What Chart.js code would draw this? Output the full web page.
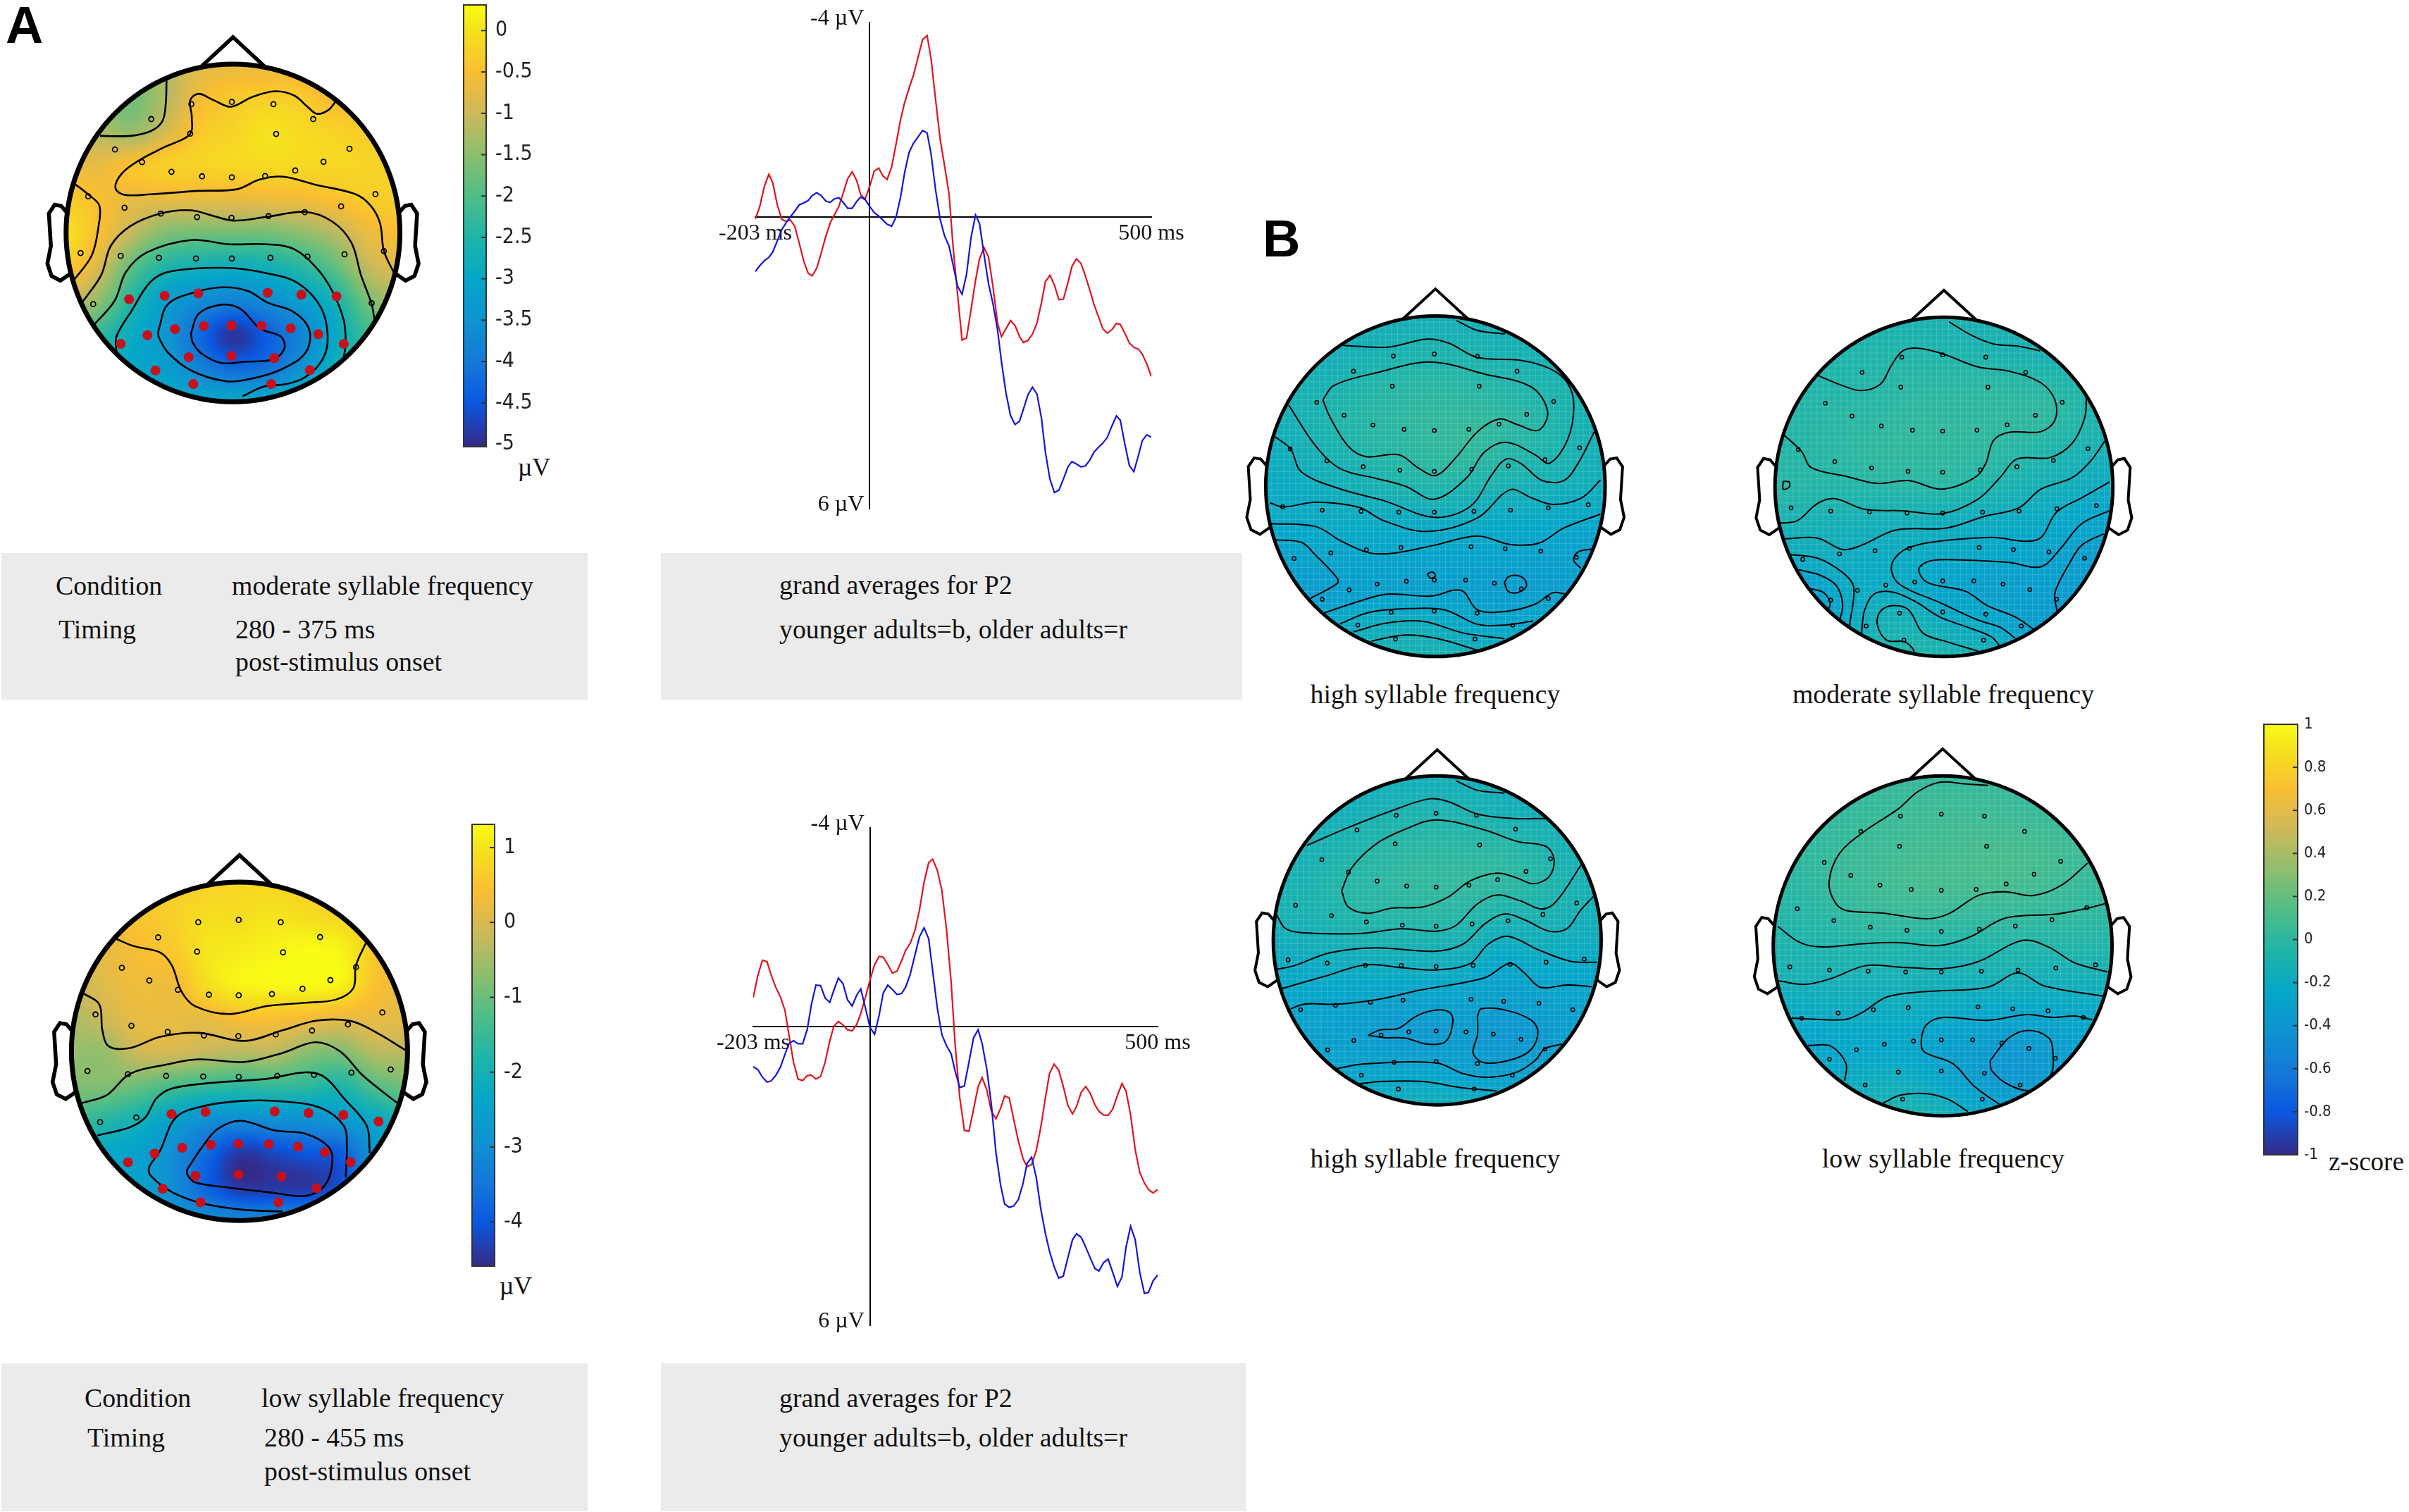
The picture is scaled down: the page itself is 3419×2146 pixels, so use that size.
<!DOCTYPE html>
<html>
<head>
<meta charset="utf-8">
<title>P2 topographies</title>
<script src="https://cdn.jsdelivr.net/npm/chart.js"></script>
<style>
  html, body { margin: 0; padding: 0; background: #fff; }
  #page { position: relative; width: 3419px; height: 2146px; overflow: hidden; background: #fff; }
  canvas { position: absolute; display: block; }
  .box { position: absolute; background: #ebebeb; }
  .t { position: absolute; font-family: "Liberation Serif", serif; font-size: 37.8px; color: #111; white-space: nowrap; transform: translateY(-50%); }
  .c { transform: translate(-50%, -50%); }
  .panel { position: absolute; font-family: "Liberation Sans", sans-serif; font-weight: bold; font-size: 74px; color: #000; line-height: 1; }
</style>
</head>
<body>
<div id="page">
  <div class="box" style="left:2px;top:785px;width:832px;height:208px"></div>
  <div class="box" style="left:938px;top:785px;width:825px;height:208px"></div>
  <div class="box" style="left:2px;top:1935px;width:832px;height:210px"></div>
  <div class="box" style="left:938px;top:1935px;width:830px;height:210px"></div>

  <div class="panel" style="left:8px;top:-1px">A</div>
  <div class="panel" style="left:1792px;top:302px">B</div>

  <div class="t" style="left:79px;top:831px">Condition</div>
  <div class="t" style="left:329px;top:831px">moderate syllable frequency</div>
  <div class="t" style="left:83px;top:893px">Timing</div>
  <div class="t" style="left:334px;top:893px">280 - 375 ms</div>
  <div class="t" style="left:334px;top:939px">post-stimulus onset</div>
  <div class="t" style="left:1106px;top:830px">grand averages for P2</div>
  <div class="t" style="left:1106px;top:893px">younger adults=b, older adults=r</div>

  <div class="t" style="left:120px;top:1984px">Condition</div>
  <div class="t" style="left:371px;top:1984px">low syllable frequency</div>
  <div class="t" style="left:124px;top:2040px">Timing</div>
  <div class="t" style="left:375px;top:2040px">280 - 455 ms</div>
  <div class="t" style="left:375px;top:2088px">post-stimulus onset</div>
  <div class="t" style="left:1106px;top:1984px">grand averages for P2</div>
  <div class="t" style="left:1106px;top:2040px">younger adults=b, older adults=r</div>

  <div class="t c" style="left:2037px;top:985px">high syllable frequency</div>
  <div class="t c" style="left:2758px;top:985px">moderate syllable frequency</div>
  <div class="t c" style="left:2037px;top:1644px">high syllable frequency</div>
  <div class="t c" style="left:2758px;top:1644px">low syllable frequency</div>

  <div class="t c" style="left:758px;top:663px;font-size:36px">µV</div>
  <div class="t c" style="left:732px;top:1825px;font-size:36px">µV</div>
  <div class="t" style="left:3305px;top:1648px;font-size:37px">z-score</div>
</div>

<script>
// ==============================
// ERP data (µV, negative up)
// ==============================
var erpTimes = [-203,-195,-187,-179,-172,-164,-156,-148,-141,-133,-125,-117,-109,-102,-94,-86,-78,-70,-63,-55,-47,-39,-31,-23,-16,-8,0,
  8,16,23,31,39,47,55,62,70,78,86,94,102,109,117,125,133,141,148,156,164,172,180,188,195,203,211,219,227,234,242,250,258,266,273,281,289,297,305,312,
  320,328,336,344,352,359,367,375,383,391,398,406,414,422,430,438,445,453,461,469,477,484,492,500];

var olderModerate = [.04,-.22,-.63,-.88,-.70,-.25,.05,.09,.06,.19,.54,.91,1.16,1.21,1.05,.74,.40,.12,-.04,-.21,-.49,-.79,-.93,-.75,-.46,-.37,-.63,
  -.94,-1.01,-.85,-.77,-1.03,-1.51,-2.01,-2.35,-2.65,-2.93,-3.29,-3.65,-3.73,-3.26,-2.42,-1.61,-1.05,-.47,.60,1.58,2.53,2.49,1.90,1.30,.86,.63,.82,1.44,
  2.18,2.46,2.30,2.13,2.23,2.46,2.58,2.54,2.41,2.18,1.76,1.33,1.20,1.40,1.70,1.69,1.35,1.02,.86,.95,1.21,1.51,1.79,2.04,2.30,2.39,2.32,2.19,2.21,2.39,2.59,2.68,2.72,2.82,3.02,3.28];
var youngerModerate = [1.12,1.00,.90,.83,.72,.49,.26,.11,0,-.12,-.25,-.29,-.34,-.44,-.50,-.44,-.33,-.30,-.37,-.40,-.30,-.18,-.18,-.32,-.41,-.36,-.22,
  -.09,-.02,.06,.15,.19,0,-.42,-.91,-1.33,-1.52,-1.65,-1.78,-1.73,-1.30,-.56,.04,.39,.60,.98,1.42,1.59,1.18,.42,-.04,.13,.77,1.37,1.79,
  2.32,2.98,3.62,4.08,4.27,4.20,3.95,3.66,3.50,3.64,4.14,4.84,5.39,5.67,5.62,5.39,5.14,5.03,5.08,5.14,5.12,5.00,4.84,4.74,4.65,4.53,4.30,4.09,4.18,4.67,5.11,5.24,4.91,4.60,4.48,4.53];
var olderLow = [-.59,-1.03,-1.34,-1.31,-1.05,-.80,-.61,-.34,.15,.71,1.05,1.08,.98,.97,1.05,1.00,.71,.29,-.01,-.11,-.04,.06,.08,-.05,-.27,-.59,-.94,
  -1.25,-1.42,-1.40,-1.25,-1.08,-1.12,-1.33,-1.54,-1.68,-1.93,-2.35,-2.91,-3.30,-3.37,-3.15,-2.74,-1.96,-.91,.36,1.42,2.08,2.10,1.66,1.20,1.02,1.27,1.70,1.85,
  1.64,1.39,1.43,1.87,2.30,2.65,2.81,2.77,2.49,2.01,1.42,.94,.75,.87,1.20,1.58,1.75,1.60,1.32,1.20,1.34,1.57,1.70,1.77,1.78,1.65,1.38,1.14,1.29,1.77,2.47,2.93,3.14,3.27,3.34,3.27];
var youngerLow = [.80,.86,1.01,1.11,1.09,.98,.82,.56,.34,.28,.34,.34,.05,-.44,-.84,-.83,-.58,-.49,-.73,-.98,-.87,-.54,-.42,-.64,-.76,-.38,.01,
  .15,-.24,-.68,-.84,-.75,-.65,-.67,-.80,-1.06,-1.44,-1.81,-1.99,-1.77,-1.12,-.38,.16,.38,.54,.89,1.22,1.19,.71,.22,.06,.34,.85,1.56,2.54,
  3.18,3.56,3.63,3.60,3.47,3.15,2.75,2.62,3.03,3.67,4.16,4.51,4.82,5.05,5.01,4.64,4.28,4.16,4.23,4.43,4.65,4.86,4.91,4.74,4.67,4.94,5.22,5.03,4.43,4.01,4.28,4.94,5.36,5.34,5.11,4.99];

var erpXTicks = [-203, 500];
var erpYTicks = [-4, 6];

// ==============================
// Colour bar ticks
// ==============================
var ticksModerate = [0,-0.5,-1,-1.5,-2,-2.5,-3,-3.5,-4,-4.5,-5];
var ticksLow = [1,0,-1,-2,-3,-4];
var ticksZ = [1,0.8,0.6,0.4,0.2,0,-0.2,-0.4,-0.6,-0.8,-1];

// ==============================
// Scalp fields: 11 x 11 samples over the head, front row first
// ==============================
var fieldA1 = [
  [-1.5,-1.5,-1.5,-1.2,-.8,-.7,-.7,-.7,-.6,-.5,-.5],
  [-1.6,-1.6,-1.7,-1.2,-.6,-.35,-.28,-.3,-.55,-.5,-.5],
  [-1,-1.2,-1.4,-.9,-.35,-.2,0,-.1,-.2,-.3,-.35],
  [-.7,-.7,-.42,-.25,-.2,-.15,-.12,-.12,-.15,-.2,-.25],
  [-.3,-.5,-.7,-.7,-.7,-.7,-.65,-.6,-.45,-.3,-.3],
  [-.05,-.5,-1.1,-1.6,-1.7,-1.7,-1.7,-1.5,-1.2,-.7,-.5],
  [-.3,-.9,-1.9,-2.5,-2.7,-2.8,-2.7,-2.4,-1.9,-1.1,-.8],
  [-1,-1.5,-2.5,-3.2,-3.6,-3.8,-3.6,-3.2,-2.7,-1.7,-1.3],
  [-2,-2.3,-2.9,-3.4,-4.2,-4.9,-4.4,-3.8,-3,-2.2,-1.8],
  [-2.6,-2.8,-3,-3.2,-3.8,-4.2,-4.1,-3.5,-2.8,-2.3,-2],
  [-2.6,-2.8,-2.9,-3,-3,-3,-2.9,-2.7,-2.6,-2.3,-2]
];
var fieldA2 = [
  [.6,.6,.6,.6,.7,.8,.8,.7,.6,.5,.4],
  [.4,.4,.5,.7,.9,.9,1,.9,.8,.7,.6],
  [.1,.2,.4,.6,1,1.1,1.2,1.3,1.2,.6,.3],
  [-.2,.1,.3,.3,.9,1.2,1.25,1.3,1.2,.5,.2],
  [-.4,-.1,.2,.2,.2,.45,.45,.35,.2,.2,.1],
  [-.6,-.6,-.1,-.05,-.2,-.3,-.3,-.7,-.8,-.3,-.3],
  [-.8,-.8,-1,-1.3,-1.5,-1.6,-1.5,-1.6,-1.8,-1.2,-.9],
  [-1.4,-1.7,-2,-2.5,-2.9,-3,-2.9,-2.9,-2.7,-2.3,-1.8],
  [-2,-2.3,-2.5,-3,-3.7,-4.4,-4.2,-4,-3.9,-2.8,-2.2],
  [-2.3,-2.4,-2.5,-3,-3.8,-4.4,-4.4,-4.4,-4,-2.8,-2.2],
  [-2.3,-2.4,-2.5,-2.8,-3,-3.1,-3.1,-3,-2.9,-2.5,-2.2]
];
var fieldB1 = [
  [-.14,-.14,-.14,-.14,-.14,-.14,-.14,-.14,-.14,-.14,-.14],
  [-.14,-.14,-.13,-.12,-.1,-.09,-.09,-.11,-.12,-.14,-.14],
  [-.13,-.12,-.1,-.06,-.03,-.02,-.03,-.05,-.08,-.1,-.12],
  [-.14,-.12,-.07,-.03,0,.02,.02,0,-.04,-.1,-.12],
  [-.18,-.14,-.1,-.05,-.02,.01,.01,-.03,-.06,-.1,-.14],
  [-.2,-.2,-.15,-.12,-.08,-.06,-.08,-.1,-.13,-.15,-.16],
  [-.22,-.22,-.2,-.2,-.2,-.19,-.2,-.22,-.22,-.24,-.24],
  [-.28,-.28,-.27,-.26,-.27,-.27,-.27,-.28,-.3,-.3,-.3],
  [-.3,-.32,-.32,-.3,-.3,-.3,-.31,-.33,-.33,-.32,-.3],
  [-.22,-.22,-.22,-.19,-.18,-.19,-.24,-.26,-.24,-.22,-.2],
  [-.13,-.13,-.13,-.12,-.1,-.1,-.14,-.16,-.16,-.15,-.15]
];
var fieldB2 = [
  [-.1,-.1,-.1,-.1,-.1,-.1,-.1,-.1,-.1,-.1,-.1],
  [-.1,-.08,-.07,-.06,-.06,-.07,-.08,-.1,-.12,-.13,-.13],
  [-.08,-.06,-.05,-.04,-.02,-.01,-.01,-.02,-.03,-.06,-.1],
  [-.05,-.04,-.02,-.01,.01,.01,.01,.01,0,-.05,-.1],
  [-.04,-.04,-.01,.01,.01,.01,0,-.03,-.07,-.11,-.14],
  [-.03,-.04,-.05,-.04,-.03,-.03,-.06,-.1,-.13,-.17,-.2],
  [-.1,-.11,-.12,-.13,-.14,-.16,-.18,-.2,-.22,-.26,-.28],
  [-.2,-.18,-.18,-.2,-.2,-.22,-.24,-.26,-.28,-.32,-.34],
  [-.3,-.3,-.22,-.2,-.21,-.27,-.3,-.31,-.32,-.34,-.36],
  [-.34,-.34,-.24,-.13,-.12,-.18,-.22,-.28,-.32,-.36,-.36],
  [-.2,-.2,-.15,-.08,-.06,-.08,-.12,-.16,-.2,-.25,-.25]
];
var fieldB3 = [
  [-.15,-.15,-.15,-.15,-.15,-.15,-.15,-.15,-.15,-.15,-.15],
  [-.15,-.15,-.15,-.13,-.1,-.09,-.1,-.13,-.15,-.15,-.15],
  [-.14,-.12,-.1,-.06,-.03,-.02,-.03,-.04,-.08,-.12,-.14],
  [-.11,-.1,-.05,-.02,.01,.02,.02,0,-.04,-.1,-.13],
  [-.11,-.1,-.06,-.03,-.02,-.01,-.03,-.06,-.08,-.11,-.14],
  [-.16,-.14,-.12,-.1,-.1,-.1,-.12,-.18,-.15,-.17,-.18],
  [-.22,-.22,-.2,-.2,-.2,-.2,-.22,-.28,-.25,-.25,-.25],
  [-.27,-.27,-.28,-.3,-.32,-.31,-.31,-.34,-.32,-.3,-.3],
  [-.3,-.3,-.31,-.34,-.36,-.37,-.35,-.4,-.37,-.32,-.3],
  [-.26,-.26,-.26,-.26,-.26,-.27,-.3,-.32,-.28,-.25,-.25],
  [-.16,-.16,-.16,-.16,-.16,-.16,-.18,-.2,-.2,-.18,-.18]
];
var fieldB4 = [
  [.02,.02,.02,.02,.02,.02,.02,.02,.02,.02,.02],
  [.02,.02,.02,.03,.05,.06,.06,.05,.03,.02,.02],
  [0,.01,.03,.05,.07,.08,.09,.09,.08,.05,.03],
  [-.02,0,.04,.06,.09,.1,.1,.1,.08,.04,.02],
  [-.05,-.03,0,.03,.04,.04,.03,.03,.02,.01,-.01],
  [-.07,-.07,-.06,-.05,-.06,-.07,-.06,-.05,-.06,-.05,-.05],
  [-.12,-.13,-.12,-.12,-.12,-.14,-.14,-.13,-.15,-.14,-.14],
  [-.2,-.21,-.2,-.2,-.2,-.22,-.24,-.26,-.25,-.24,-.22],
  [-.26,-.27,-.25,-.24,-.26,-.31,-.34,-.38,-.36,-.3,-.28],
  [-.2,-.2,-.2,-.17,-.18,-.25,-.33,-.38,-.35,-.3,-.28],
  [-.1,-.1,-.1,-.08,-.08,-.14,-.22,-.25,-.25,-.22,-.2]
];

// ==============================
// Electrodes (map units)
// ==============================
var sitesA1 = [[501,322],[607,315],[716,322],[396,368],[820,368],[498,413],[723,414],[301,462],[915,460],[372,501],[847,500],[449,531],[529,545],[607,548],[694,544],[773,527],[231,607],[983,600],[326,642],[893,638],[421,660],[516,671],[606,673],[703,668],[798,656],[211,782],[1005,776],[316,791],[416,797],[513,799],[607,799],[708,797],[805,793],[902,786],[244,940],[973,937]];
var hotSitesA1 = [[338,925],[431,914],[519,907],[701,905],[789,911],[881,916],[534,1008],[606,1006],[685,1007],[761,1015],[833,1033],[458,1017],[386,1036],[316,1063],[900,1063],[494,1104],[606,1100],[718,1107],[407,1145],[811,1144],[506,1187],[710,1187]];
var sitesA2 = [[519,346],[625,339],[735,346],[414,393],[838,392],[516,437],[741,439],[319,487],[932,485],[391,526],[865,525],[466,555],[547,570],[625,572],[712,568],[792,552],[250,631],[1001,625],[344,666],[911,662],[439,685],[534,696],[624,698],[722,693],[817,681],[229,806],[1023,801],[335,816],[435,821],[532,823],[625,824],[726,821],[822,818],[920,811],[262,964],[357,950]];
var hotSitesA2 = [[449,939],[538,932],[719,931],[808,936],[899,942],[991,962],[552,1034],[624,1031],[704,1032],[780,1040],[851,1057],[477,1043],[405,1061],[335,1088],[918,1088],[512,1130],[624,1126],[737,1132],[426,1170],[829,1168],[525,1212],[729,1212]];
var sitesB1 = [[446,307],[560,300],[680,308],[335,360],[790,360],[443,412],[685,412],[233,468],[892,465],[309,513],[817,510],[389,547],[476,562],[560,566],[656,562],[740,544],[159,630],[964,626],[261,671],[868,667],[362,692],[464,704],[560,708],[664,701],[766,689],[138,831],[988,824],[248,843],[356,847],[461,850],[560,850],[670,847],[772,843],[877,835],[170,1011],[272,992],[371,981],[467,973],[662,970],[757,977],[856,985],[955,1007],[323,1120],[401,1100],[482,1090],[560,1086],[647,1086],[727,1097],[802,1116],[248,1153],[877,1150],[440,1198],[560,1194],[679,1201],[347,1243],[778,1243],[452,1291],[673,1291]];
var sitesB2 = [[558,311],[688,303],[825,311],[432,364],[952,364],[555,415],[832,415],[315,471],[1068,468],[400,516],[983,513],[493,550],[592,565],[688,568],[797,565],[893,546],[229,632],[1150,629],[345,674],[1040,670],[462,696],[578,708],[688,711],[808,703],[924,692],[206,835],[1177,827],[332,846],[455,849],[575,853],[688,853],[815,850],[931,846],[1051,838],[243,1014],[360,995],[473,984],[582,976],[804,973],[913,980],[1026,988],[1139,1010],[417,1122],[507,1104],[599,1093],[688,1089],[787,1089],[880,1100],[965,1119],[332,1156],[1050,1153],[551,1201],[688,1197],[825,1205],[445,1246],[938,1246],[565,1295],[818,1295]];
var sitesB3 = [[454,287],[565,280],[677,287],[345,338],[786,335],[451,386],[686,390],[247,441],[883,438],[321,485],[815,482],[401,516],[483,533],[565,537],[656,530],[736,511],[174,600],[956,592],[274,636],[862,632],[371,658],[471,669],[565,673],[665,665],[765,654],[153,790],[977,787],[262,801],[368,809],[468,809],[565,813],[668,809],[771,805],[871,798],[188,963],[285,948],[382,937],[473,930],[662,927],[753,934],[851,941],[945,963],[336,1070],[412,1051],[489,1040],[565,1037],[648,1040],[724,1048],[801,1066],[263,1103],[868,1100],[448,1146],[565,1143],[680,1150],[357,1191],[777,1191],[460,1239],[671,1239]];
var sitesB4 = [[400,290],[494,283],[593,290],[309,343],[685,343],[398,395],[598,395],[225,451],[768,447],[286,496],[707,492],[353,530],[425,545],[494,548],[574,545],[643,526],[163,612],[828,608],[247,653],[748,650],[331,676],[415,687],[494,691],[581,683],[664,672],[146,814],[848,807],[237,825],[326,829],[412,832],[494,832],[586,829],[670,825],[757,818],[173,993],[257,975],[338,963],[418,956],[578,953],[658,960],[739,967],[820,990],[299,1102],[363,1083],[430,1072],[494,1068],[566,1068],[633,1079],[695,1098],[237,1135],[756,1132],[395,1180],[494,1176],[593,1184],[319,1225],[675,1225],[405,1274],[588,1274]];

// ==============================
// Contour lines (map units)
// ==============================
var contoursA1 = [
  [[436,248],[434,320],[425,375],[395,405],[340,420],[262,420]],
  [[878,315],[860,340],[830,352],[805,330],[770,295],[720,282],[660,300],[605,330],[560,310],[520,290],[498,310],[502,360],[497,415],[430,455],[365,495],[320,535],[302,580],[325,602],[400,600],[520,590],[620,585],[680,555],[740,546],[830,572],[930,600],[970,635],[995,690],[1005,775],[1032,845]],
  [[192,565],[230,600],[260,635],[258,700],[240,790],[192,868]],
  [[215,935],[265,850],[290,760],[340,700],[420,660],[500,650],[560,668],[610,682],[700,670],[800,655],[870,685],[920,750],[945,850],[973,940],[980,985]],
  [[247,1003],[300,930],[330,840],[385,780],[500,742],[600,755],[700,755],[770,770],[830,830],[870,900],[900,990],[905,1060],[900,1105]],
  [[305,1090],[305,1040],[345,960],[395,870],[450,838],[600,828],[700,845],[780,875],[840,950],[858,1040],[845,1110],[800,1165],[750,1187],[690,1195],[635,1225]],
  [[415,1020],[440,940],[520,900],[590,888],[650,900],[700,935],[770,965],[810,1020],[800,1090],[740,1140],[660,1170],[590,1178],[500,1145],[440,1090],[415,1040],[415,1020]],
  [[500,1030],[520,970],[580,942],[630,955],[680,1015],[735,1040],[745,1075],[718,1110],[640,1118],[580,1122],[530,1095],[505,1060],[500,1030]]
];
var contoursA2 = [
  [[305,398],[350,420],[420,440],[450,480],[475,560],[510,605],[600,630],[700,605],[800,595],[880,585],[925,550],[932,480],[958,410]],
  [[220,567],[260,600],[268,680],[285,730],[340,735],[420,700],[520,688],[640,713],[740,680],[830,650],[920,652],[990,690],[1062,742]],
  [[215,905],[280,880],[340,815],[440,785],[520,770],[640,778],[740,750],[825,717],[890,745],[950,820],[1040,905]],
  [[255,1005],[340,980],[380,950],[410,890],[450,860],[560,842],[700,830],[800,810],[850,825],[900,890],[960,975],[968,1060]],
  [[905,1135],[908,1040],[900,975],[840,920],[740,900],[640,898],[530,915],[460,950],[420,1050],[390,1105],[395,1130],[450,1180],[530,1215],[640,1235],[740,1240]],
  [[490,1110],[530,1040],[570,985],[630,960],[720,990],[800,1000],[860,1040],[870,1090],[850,1160],[800,1192],[700,1180],[590,1165],[510,1150],[490,1125],[490,1110]]
];
var contoursB1 = [
  [[622,184],[680,218],[757,230]],
  [[305,270],[430,276],[540,248],[600,262],[680,312],[800,322],[880,350],[930,400],[948,480],[930,600],[880,680],[840,650],[760,607],[700,640],[650,730],[560,805],[480,760],[400,733],[300,700],[230,620],[155,478]],
  [[250,460],[280,410],[400,365],[550,328],[700,370],[830,415],[875,500],[850,565],[790,545],[740,526],[680,570],[620,660],[565,722],[520,700],[460,650],[370,657],[320,620],[270,520],[250,460]],
  [[117,588],[160,630],[190,710],[300,770],[420,810],[560,868],[660,830],[720,720],[760,665],[800,680],[860,740],[920,740],[960,680],[1005,570]],
  [[103,817],[140,832],[230,815],[350,833],[420,880],[540,917],[680,870],[770,772],[830,800],[890,823],[970,800],[1022,738]],
  [[103,890],[230,900],[300,950],[380,992],[450,992],[560,965],[680,933],[770,962],[850,958],[920,905],[1022,857]],
  [[118,946],[190,955],[230,1000],[290,1080],[290,1098],[215,1150]],
  [[255,1200],[350,1160],[430,1135],[550,1142],[635,1122],[680,1190],[760,1195],[840,1170],[890,1130],[925,1135]],
  [[298,1238],[380,1198],[500,1185],[590,1190],[680,1240],[760,1242],[835,1228]],
  [[335,1266],[430,1235],[530,1230],[640,1270],[755,1290]],
  [[385,1298],[480,1277],[570,1290],[680,1330]],
  [[755,1095],[765,1075],[790,1070],[812,1085],[815,1110],[790,1130],[765,1125],[755,1095]],
  [[997,978],[960,988],[947,1015],[967,1045]],
  [[540,1065],[555,1058],[563,1072],[550,1080],[540,1065]]
];
var contoursB2 = [
  [[708,188],[780,235],[850,265],[930,273],[998,289]],
  [[288,373],[370,410],[430,427],[490,405],[525,340],[560,290],[610,280],[690,300],[800,345],[900,360],[1000,400],[1045,460],[1045,530],[1000,570],[900,572],[850,600],[825,680],[790,730],[685,770],[580,740],[480,750],[380,725],[270,695],[240,640],[180,578]],
  [[165,888],[225,880],[290,820],[345,803],[440,840],[560,845],[688,855],[800,805],[870,730],[925,665],[1030,660],[1100,610],[1140,520],[1145,448]],
  [[183,943],[290,940],[370,980],[430,965],[540,912],[700,905],[820,865],[930,835],[1000,770],[1100,730],[1160,670],[1203,603]],
  [[200,997],[290,1010],[370,1060],[405,1110],[392,1245]],
  [[430,1270],[440,1190],[470,1135],[530,1128],[600,1160],[680,1215],[780,1255],[845,1285],[872,1320]],
  [[1218,845],[1130,890],[1060,980],[1000,1040],[900,1025],[700,1015],[640,1022],[612,1050],[640,1095],[760,1125],[830,1175],[920,1215],[978,1258]],
  [[1218,745],[1130,800],[1050,850],[990,945],[840,938],[650,955],[560,985],[525,1040],[550,1100],[680,1165],[800,1225],[870,1250],[918,1288]],
  [[1200,925],[1130,965],[1090,1030],[1045,1130],[1052,1195]],
  [[230,1050],[300,1070],[350,1105],[370,1170],[360,1230]],
  [[265,1115],[310,1130],[330,1165],[325,1190]],
  [[598,1338],[590,1320],[565,1300],[510,1295],[480,1240],[490,1195],[530,1175],[580,1190],[625,1270],[700,1300],[800,1333]],
  [[181,743],[200,745],[200,763],[181,770],[181,743]]
];
var contoursB3 = [
  [[620,167],[680,200],[755,210]],
  [[205,392],[320,330],[440,272],[545,230],[600,240],[680,283],[780,298],[868,298]],
  [[302,550],[330,470],[400,385],[480,335],[565,303],[700,338],[790,378],[870,395],[893,440],[880,500],[835,525],[790,505],[735,488],[660,515],[600,570],[530,605],[440,610],[375,628],[320,605],[302,550]],
  [[122,635],[145,680],[190,695],[350,698],[470,682],[565,690],[620,670],[680,595],[735,564],[800,585],[860,613],[900,585],[968,460]],
  [[120,823],[170,810],[270,765],[400,748],[560,760],[640,735],[700,665],[755,630],[810,650],[880,690],[930,680],[965,620],[1002,570]],
  [[135,890],[260,845],[368,807],[470,817],[565,825],[660,802],[710,735],[765,708],[850,755],[940,795],[1012,798]],
  [[160,960],[200,943],[290,944],[400,928],[520,895],[700,852],[770,802],[810,835],[855,885],[930,877],[998,883]],
  [[376,1052],[410,1033],[460,1028],[510,985],[565,964],[605,975],[610,1020],[590,1075],[540,1083],[480,1062],[420,1060],[376,1052]],
  [[680,985],[690,960],[760,965],[830,1000],[848,1040],[830,1100],[780,1135],[700,1148],[668,1115],[680,1050],[680,985]],
  [[288,1168],[360,1152],[565,1148],[640,1185],[710,1198],[790,1180],[840,1140],[868,1098],[915,1083]],
  [[352,1220],[420,1212],[530,1213],[640,1235],[733,1245]]
];
var contoursB4 = [
  [[602,183],[550,178],[490,172],[440,205],[395,265],[320,340],[260,420],[236,520],[250,590],[275,618],[360,627],[460,647],[510,630],[580,565],[640,553],[705,566],[770,530],[830,453]],
  [[118,673],[170,730],[220,745],[320,733],[400,730],[490,740],[560,710],[640,645],[760,630],[830,610],[876,592]],
  [[118,862],[180,875],[240,855],[320,810],[400,815],[500,820],[580,795],[680,722],[740,745],[800,800],[876,832]],
  [[150,992],[270,998],[310,975],[370,918],[460,900],[600,885],[670,835],[730,880],[866,916]],
  [[840,998],[800,985],[750,990],[690,980],[600,1000],[500,990],[460,1015],[448,1070],[455,1110],[520,1150],[570,1230],[630,1295]],
  [[606,1140],[650,1060],[695,1035],[740,1060],[750,1105],[745,1190],[700,1243],[650,1225],[610,1175],[606,1140]],
  [[188,1087],[240,1090],[275,1150],[272,1210]],
  [[360,1288],[400,1260],[460,1255],[510,1275],[555,1317]]
];

// ==============================
// Helpers
// ==============================
var page = document.getElementById("page");
var colourStops = [
  [0, 53,42,135], [.1, 10,88,225], [.19, 20,120,216], [.28, 15,145,210], [.38, 5,167,200],
  [.47, 30,180,170], [.57, 80,190,135], [.66, 140,190,110], [.755, 205,185,90], [.85, 250,190,50],
  [.94, 245,225,30], [1, 249,251,21]
];

function parula(t) {
  t = Math.max(0, Math.min(1, t));
  for (var i = 1; i < colourStops.length; i++) {
    if (t <= colourStops[i][0]) {
      var a = colourStops[i - 1], b = colourStops[i];
      var k = (t - a[0]) / (b[0] - a[0]);
      return [a[1] + (b[1] - a[1]) * k, a[2] + (b[2] - a[2]) * k, a[3] + (b[3] - a[3]) * k];
    }
  }
  return colourStops[colourStops.length - 1].slice(1);
}

function makeCanvas(left, top, width, height) {
  var c = document.createElement("canvas");
  c.width = width;
  c.height = height;
  c.style.left = left + "px";
  c.style.top = top + "px";
  c.style.width = width + "px";
  c.style.height = height + "px";
  page.appendChild(c);
  return c;
}

function pairs(list) {
  return list.map(function (p) { return { x: p[0], y: p[1] }; });
}

function catmull(a, b, c, d, t) {
  return b + .5 * t * (c - a + t * (2 * a - 5 * b + 4 * c - d + t * (3 * (b - c) + d - a)));
}

// value of a field at u, v (both -1..1 across the head)
function fieldAt(field, u, v) {
  var n = field.length - 1, m = field[0].length - 1;
  var gy = (v + 1) / 2 * n, gx = (u + 1) / 2 * m;
  var r = Math.max(0, Math.min(n - 1, Math.floor(gy))), q = Math.max(0, Math.min(m - 1, Math.floor(gx)));
  var rows = [];
  for (var i = -1; i <= 2; i++) {
    var row = field[Math.max(0, Math.min(n, r + i))];
    rows.push(catmull(row[Math.max(0, q - 1)], row[q], row[q + 1], row[Math.min(m, q + 2)], gx - q));
  }
  return catmull(rows[0], rows[1], rows[2], rows[3], gy - r);
}

// ==============================
// Scalp map chart
// ==============================
var leftEar = [[-.99,-.115],[-1.03,-.16],[-1.068,-.167],[-1.103,-.115],[-1.091,.077],[-1.112,.182],[-1.087,.255],[-1.034,.282],[-.973,.24]];
var noseShape = [[-.19,-.985],[0,-1.159],[.19,-.985]];

function scalpPlugin(m) {
  return {
    id: "scalp",
    beforeDatasetsDraw: function (chart) {
      var ctx = chart.ctx, sx = chart.scales.x, sy = chart.scales.y;
      var px = sx.getPixelForValue(m.cx), py = sy.getPixelForValue(m.cy);
      var rx = sx.getPixelForValue(m.cx + m.rx) - px, ry = sy.getPixelForValue(m.cy + m.ry) - py;
      var w = Math.ceil(rx * 2), h = Math.ceil(ry * 2);
      var off = document.createElement("canvas");
      off.width = w; off.height = h;
      var octx = off.getContext("2d"), img = octx.createImageData(w, h);
      for (var j = 0; j < h; j++) {
        for (var i = 0; i < w; i++) {
          var c = parula((fieldAt(m.field, (i + .5) / w * 2 - 1, (j + .5) / h * 2 - 1) - m.min) / (m.max - m.min));
          var k = (j * w + i) * 4;
          img.data[k] = c[0]; img.data[k + 1] = c[1]; img.data[k + 2] = c[2]; img.data[k + 3] = 255;
        }
      }
      octx.putImageData(img, 0, 0);
      ctx.save();
      ctx.beginPath();
      ctx.ellipse(px, py, rx, ry, 0, 0, Math.PI * 2);
      ctx.clip();
      ctx.drawImage(off, px - rx, py - ry);
      if (m.mesh) {
        // faint resampling grid seen on the z-score maps
        ctx.strokeStyle = "rgba(255,255,255,.16)";
        ctx.lineWidth = 1;
        ctx.beginPath();
        for (var gx = px - rx; gx < px + rx; gx += 8.5) { ctx.moveTo(gx, py - ry); ctx.lineTo(gx, py + ry); }
        for (var gy = py - ry; gy < py + ry; gy += 8.5) { ctx.moveTo(px - rx, gy); ctx.lineTo(px + rx, gy); }
        ctx.stroke();
      }
      ctx.restore();
    },
    afterDatasetsDraw: function (chart) {
      var ctx = chart.ctx, sx = chart.scales.x, sy = chart.scales.y;
      function place(p, flip) {
        return [sx.getPixelForValue(m.cx + p[0] * m.rx * (flip ? -1 : 1)), sy.getPixelForValue(m.cy + p[1] * m.ry)];
      }
      function trace(shape, flip) {
        ctx.beginPath();
        shape.forEach(function (p, i) {
          var q = place(p, flip);
          if (i) ctx.lineTo(q[0], q[1]); else ctx.moveTo(q[0], q[1]);
        });
        ctx.stroke();
      }
      ctx.save();
      ctx.strokeStyle = "#000";
      ctx.lineJoin = "miter";
      ctx.lineWidth = m.trim;
      trace(noseShape, false);
      trace(leftEar, false);
      trace(leftEar, true);
      ctx.lineWidth = m.outline;
      var c = place([0, 0]), e = place([1, 1]);
      ctx.beginPath();
      ctx.ellipse(c[0], c[1], e[0] - c[0], e[1] - c[1], 0, 0, Math.PI * 2);
      ctx.stroke();
      ctx.restore();
    }
  };
}

function drawScalp(m) {
  var datasets = [];
  if (m.hot) {
    datasets.push({ data: pairs(m.hot), showLine: false, pointRadius: 7, pointBackgroundColor: "#c8101c", pointBorderWidth: 0 });
  }
  datasets.push({ data: pairs(m.sites), showLine: false, pointRadius: m.dot, pointBackgroundColor: "rgba(0,0,0,0)", pointBorderColor: "#000", pointBorderWidth: m.dotLine });
  m.contours.forEach(function (line) {
    datasets.push({ data: pairs(line), showLine: true, pointRadius: 0, borderColor: "#000", borderWidth: m.line, tension: .35, fill: false });
  });
  return new Chart(makeCanvas(m.left, m.top, m.width, m.height), {
    type: "scatter",
    data: { datasets: datasets },
    plugins: [scalpPlugin(m)],
    options: {
      responsive: false,
      devicePixelRatio: 1,
      animation: false,
      events: [],
      layout: { padding: 0, autoPadding: false },
      plugins: { legend: { display: false }, tooltip: { enabled: false } },
      scales: {
        x: { display: false, type: "linear", min: 0, max: 1568 },
        y: { display: false, type: "linear", min: 0, max: 1568, reverse: true }
      }
    }
  });
}

drawScalp({ left: 0, top: 0, width: 850, height: 720, cx: 610, cy: 720, rx: 437, ry: 522, field: fieldA1, min: -5.03, max: .31, sites: sitesA1, hot: hotSitesA1, contours: contoursA1, outline: 7, trim: 5.5, line: 2.6, dot: 3.5, dotLine: 1.8 });
drawScalp({ left: 0, top: 1150, width: 850, height: 720, cx: 627, cy: 745, rx: 440, ry: 523, field: fieldA2, min: -4.59, max: 1.31, sites: sitesA2, hot: hotSitesA2, contours: contoursA2, outline: 7, trim: 5.5, line: 2.6, dot: 3.5, dotLine: 1.8 });
drawScalp({ left: 1750, top: 380, width: 800, height: 640, cx: 563, cy: 760, rx: 472, ry: 592, field: fieldB1, min: -1, max: 1, sites: sitesB1, contours: contoursB1, outline: 5, trim: 4, line: 2, dot: 2.6, dotLine: 1.5, mesh: true });
drawScalp({ left: 2450, top: 380, width: 700, height: 640, cx: 692, cy: 762, rx: 537, ry: 590, field: fieldB2, min: -1, max: 1, sites: sitesB2, contours: contoursB2, outline: 5, trim: 4, line: 2, dot: 2.6, dotLine: 1.5, mesh: true });
drawScalp({ left: 1750, top: 1040, width: 800, height: 640, cx: 568, cy: 722, rx: 456, ry: 572, field: fieldB3, min: -1, max: 1, sites: sitesB3, contours: contoursB3, outline: 5, trim: 4, line: 2, dot: 2.6, dotLine: 1.5, mesh: true });
drawScalp({ left: 2450, top: 1040, width: 969, height: 640, cx: 497, cy: 741, rx: 389, ry: 591, field: fieldB4, min: -1, max: 1, sites: sitesB4, contours: contoursB4, outline: 5, trim: 4, line: 2, dot: 2.6, dotLine: 1.5, mesh: true });

// ==============================
// Colour bars
// ==============================
function drawColourBar(left, top, width, height, min, max, ticks, fontSize, labelGap) {
  var margin = 40, axisWidth = 130;
  return new Chart(makeCanvas(left - margin, top - margin, margin + width + axisWidth, height + margin * 2), {
    type: "scatter",
    data: { datasets: [{ data: [] }] },
    plugins: [{
      id: "bar",
      beforeDatasetsDraw: function (chart) {
        var ctx = chart.ctx, a = chart.chartArea, y = chart.scales.y;
        for (var py = Math.floor(a.top); py < a.bottom; py++) {
          var c = parula((y.getValueForPixel(py + .5) - min) / (max - min));
          ctx.fillStyle = "rgb(" + Math.round(c[0]) + "," + Math.round(c[1]) + "," + Math.round(c[2]) + ")";
          ctx.fillRect(a.left, py, a.right - a.left, 1);
        }
        ctx.strokeStyle = "#333";
        ctx.lineWidth = 2;
        ctx.strokeRect(a.left, a.top, a.right - a.left, a.bottom - a.top);
        ticks.forEach(function (v) {
          var p = y.getPixelForValue(v);
          ctx.beginPath();
          ctx.moveTo(a.right, p);
          ctx.lineTo(a.right - 7, p);
          ctx.stroke();
        });
      }
    }],
    options: {
      responsive: false,
      devicePixelRatio: 1,
      animation: false,
      events: [],
      layout: { padding: { left: margin, top: margin, bottom: margin, right: 0 }, autoPadding: false },
      plugins: { legend: { display: false }, tooltip: { enabled: false } },
      scales: {
        x: { display: false },
        y: {
          position: "right",
          min: min,
          max: max,
          grid: { display: false, drawTicks: false },
          border: { display: false },
          afterFit: function (s) { s.width = axisWidth; },
          afterBuildTicks: function (s) { s.ticks = ticks.map(function (v) { return { value: v }; }); },
          ticks: {
            autoSkip: false,
            padding: labelGap,
            color: "#222",
            font: { family: "'DejaVu Sans Condensed','DejaVu Sans',sans-serif", size: fontSize },
            callback: function (v) { return String(v); }
          }
        }
      }
    }
  });
}

drawColourBar(658, 7, 32, 627, -5.03, .31, ticksModerate, 30, 13);
drawColourBar(670, 1170, 32, 627, -4.59, 1.31, ticksLow, 30, 13);
drawColourBar(3213, 1028, 48, 611, -1, 1, ticksZ, 22, 9);

// ==============================
// ERP waveforms
// ==============================
function series(values) {
  return values.map(function (v, i) { return { x: erpTimes[i], y: v }; });
}

function drawErp(left, top, width, height, plot, older, younger) {
  return new Chart(makeCanvas(left, top, width, height), {
    type: "scatter",
    data: {
      datasets: [
        { data: series(younger), showLine: true, borderColor: "#1414dc", borderWidth: 2.2, pointRadius: 0, tension: 0 },
        { data: series(older), showLine: true, borderColor: "#e1141e", borderWidth: 2.2, pointRadius: 0, tension: 0 }
      ]
    },
    options: {
      responsive: false,
      devicePixelRatio: 1,
      animation: false,
      events: [],
      layout: { padding: plot, autoPadding: false },
      plugins: { legend: { display: false }, tooltip: { enabled: false } },
      scales: {
        x: {
          type: "linear",
          position: { y: 0 },
          min: -203,
          max: 500,
          grid: { display: false, drawTicks: false },
          border: { color: "#000", width: 2 },
          afterBuildTicks: function (s) { s.ticks = erpXTicks.map(function (v) { return { value: v }; }); },
          ticks: {
            padding: 4,
            maxRotation: 0,
            autoSkip: false,
            color: "#111",
            font: { family: "'Liberation Serif',serif", size: 32 },
            callback: function (v) { return v + " ms"; }
          }
        },
        y: {
          type: "linear",
          position: { x: 0 },
          reverse: true,
          min: -4,
          max: 6,
          grid: { display: false, drawTicks: false },
          border: { color: "#000", width: 2 },
          afterBuildTicks: function (s) { s.ticks = erpYTicks.map(function (v) { return { value: v }; }); },
          ticks: {
            labelOffset: -5,
            autoSkip: false,
            color: "#111",
            font: { family: "'Liberation Serif',serif", size: 32 },
            callback: function (v) { return v + " µV\u00a0"; }
          }
        }
      }
    }
  });
}

drawErp(950, 0, 800, 760, { left: 122, right: 116, top: 32, bottom: 38 }, olderModerate, youngerModerate);
drawErp(950, 1130, 800, 780, { left: 119, right: 107, top: 45, bottom: 29 }, olderLow, youngerLow);
</script>
</body>
</html>
